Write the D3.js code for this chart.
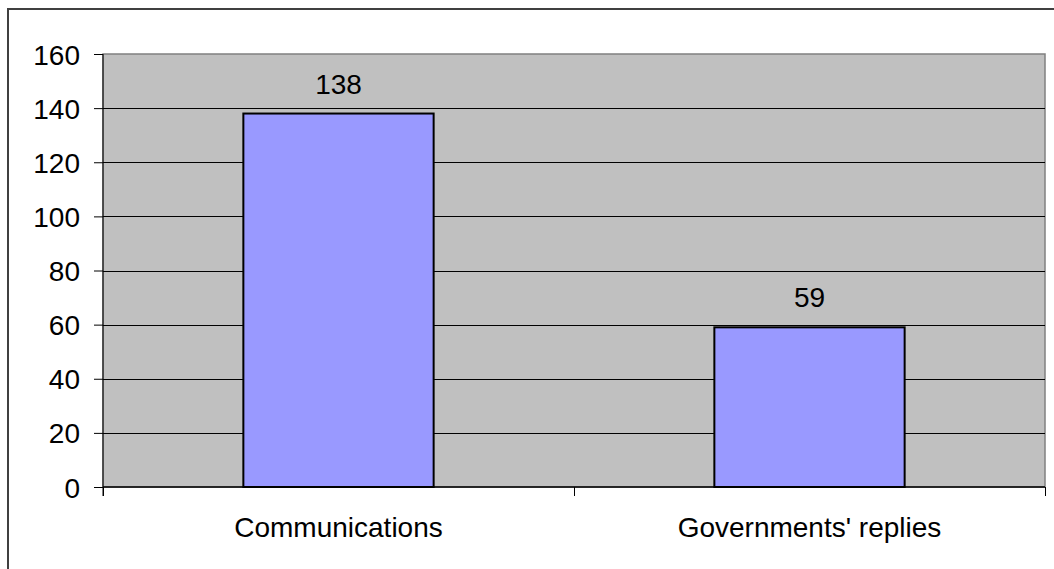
<!DOCTYPE html>
<html>
<head>
<meta charset="utf-8">
<script src="https://cdn.jsdelivr.net/npm/d3@7"></script>
<style>
  html, body { margin: 0; padding: 0; background: #fff; }
  svg { display: block; }
</style>
</head>
<body>
<div id="chart"></div>
<script>
const categories = ['Communications', "Governments' replies"];
const values = [138, 59];
const yTicks = [0, 20, 40, 60, 80, 100, 120, 140, 160];

const width = 1054, height = 569;
const margin = { top: 54, right: 9, bottom: 82, left: 103 };
const w = width - margin.left - margin.right;
const h = height - margin.top - margin.bottom;
const font = '"Liberation Sans", Arial, sans-serif';
const fs = 28;

const svg = d3.select('#chart').append('svg').attr('width', width).attr('height', height);

// outer chart border
svg.append('rect').attr('x', 8).attr('y', 9).attr('width', 1060).attr('height', 580)
  .attr('fill', 'none').attr('stroke', '#404040').attr('stroke-width', 2);

const g = svg.append('g').attr('transform', `translate(${margin.left},${margin.top})`);

const x = d3.scaleBand().domain(categories).range([0, w]).paddingInner(0.596).paddingOuter(0.298);
const xOuter = d3.scaleBand().domain(categories).range([0, w]);
const y = d3.scaleLinear().domain([0, 160]).range([h, 0]);

g.append('rect').attr('width', w).attr('height', h).attr('fill', '#c0c0c0')
  .attr('stroke', '#808080').attr('stroke-width', 1.5);

// gridlines
g.selectAll('.grid').data(yTicks.filter(d => d > 0 && d < 160)).enter().append('line')
  .attr('x1', 0).attr('x2', w).attr('y1', d => Math.round(y(d)) + 0.5).attr('y2', d => Math.round(y(d)) + 0.5)
  .attr('stroke', '#000').attr('stroke-width', 1);

// bars
g.selectAll('.bar').data(values).enter().append('rect')
  .attr('x', (d, i) => x(categories[i]))
  .attr('y', d => y(d))
  .attr('width', x.bandwidth())
  .attr('height', d => h - y(d))
  .attr('fill', '#9999ff').attr('stroke', '#000').attr('stroke-width', 2);

// value labels
g.selectAll('.val').data(values).enter().append('text')
  .attr('x', (d, i) => x(categories[i]) + x.bandwidth() / 2)
  .attr('y', d => y(d) - 20)
  .attr('text-anchor', 'middle').attr('font-family', font).attr('font-size', fs).attr('fill', '#000')
  .text(d => d);

// y axis
const yAxis = g.append('g').call(d3.axisLeft(y).tickValues(yTicks).tickSize(9).tickPadding(14));
yAxis.selectAll('text').attr('font-family', font).attr('font-size', fs).attr('fill', '#000').attr('dy', '0.36em');
yAxis.selectAll('line').attr('stroke', '#000');
yAxis.select('.domain').attr('d', `M0,0V${h + 9}`).attr('stroke', '#000');

// x axis
const xAxisG = g.append('g').attr('transform', `translate(0,${h})`);
xAxisG.append('line').attr('x1', 0).attr('x2', w).attr('y1', 0).attr('y2', 0).attr('stroke', '#000').attr('stroke-width', 1.5);
const edges = [0, ...categories.map(c => xOuter(c) + xOuter.bandwidth())];
xAxisG.selectAll('.tk').data(edges).enter().append('line')
  .attr('x1', d => Math.round(d) + 0.5).attr('x2', d => Math.round(d) + 0.5)
  .attr('y1', 0).attr('y2', 9).attr('stroke', '#000');
xAxisG.selectAll('.lbl').data(categories).enter().append('text')
  .attr('x', d => xOuter(d) + xOuter.bandwidth() / 2)
  .attr('y', 50)
  .attr('text-anchor', 'middle').attr('font-family', font).attr('font-size', fs).attr('fill', '#000')
  .text(d => d);
</script>
</body>
</html>
